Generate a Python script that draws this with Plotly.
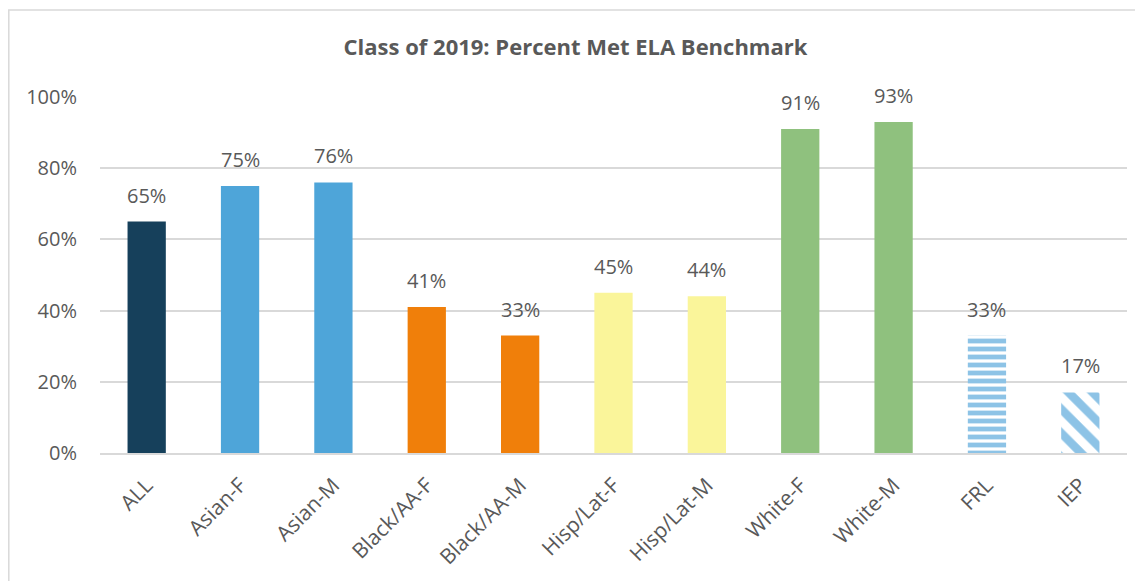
import plotly.graph_objects as go

categories = ["ALL", "Asian-F", "Asian-M", "Black/AA-F", "Black/AA-M", "Hisp/Lat-F",
              "Hisp/Lat-M", "White-F", "White-M", "FRL", "IEP"]
percent_met = [65, 75, 76, 41, 33, 45, 44, 91, 93, 33, 17]
bar_colors = ["#16405B", "#4EA5D9", "#4EA5D9", "#F07F0A", "#F07F0A", "#FAF59A",
              "#FAF59A", "#8FC17E", "#8FC17E", "#8DC3E6", "#8DC3E6"]
bar_patterns = ["", "", "", "", "", "", "", "", "", "-", "\\"]
y_ticks = [0, 20, 40, 60, 80, 100]

# the page has an 8px body margin, so the figure is drawn 8px in from the window edge
W, H = 1135, 573
M = dict(l=92, r=16, t=89, b=128)
pw, ph = W - M["l"] - M["r"], H - M["t"] - M["b"]

font = "Open Sans, Liberation Sans, sans-serif"
grey = "#595959"
pattern_size = {"-": 8, "\\": 17}
pattern_solidity = {"-": 0.6, "\\": 0.5}

fig = go.Figure()
for pat in dict.fromkeys(bar_patterns):
    idx = [i for i, p in enumerate(bar_patterns) if p == pat]
    cols = [bar_colors[i] for i in idx]
    marker = dict(color=cols, line=dict(width=0))
    if pat:
        marker["pattern"] = dict(
            shape=pat, fgcolor=cols[0], bgcolor="#FFFFFF", fillmode="replace",
            size=pattern_size[pat], solidity=pattern_solidity[pat],
        )
    fig.add_trace(
        go.Bar(
            x=[categories[i] for i in idx],
            y=[percent_met[i] / 100 for i in idx],
            marker=marker,
            hovertemplate="%{x}: %{y:.0%}<extra></extra>",
        )
    )

for cat, val in zip(categories, percent_met):
    fig.add_annotation(
        x=cat, y=val / 100, text=f"{val}%", showarrow=False,
        yanchor="bottom", yshift=11, font=dict(family=font, size=20, color=grey),
    )

# outer chart border (only left/top visible in the original)
fig.add_shape(
    type="rect", xref="paper", yref="paper",
    x0=(0.8 - M["l"]) / pw, x1=(W + 10 - M["l"]) / pw,
    y0=(H - M["b"] - (H + 10)) / ph, y1=(H - M["b"] - 2) / ph,
    line=dict(color="#D9D9D9", width=1.5), fillcolor="rgba(0,0,0,0)", layer="below",
)

fig.update_layout(
    width=W, height=H,
    margin=M,
    paper_bgcolor="white",
    plot_bgcolor="white",
    showlegend=False,
    barmode="overlay",
    bargap=0.59,
    title=dict(
        text="<b>Class of 2019: Percent Met ELA Benchmark</b>",
        x=0.5, xanchor="center", y=1 - 39 / H, yanchor="middle",
        font=dict(family=font, size=22, color=grey),
    ),
    xaxis=dict(
        type="category",
        categoryorder="array",
        categoryarray=categories,
        tickangle=-45,
        tickfont=dict(family=font, size=21, color=grey),
        showgrid=False,
        showline=True,
        linecolor="#D9D9D9",
        linewidth=1.5,
        ticks="",
        ticklabelstandoff=10,
    ),
    yaxis=dict(
        range=[0, 1],
        tickvals=[t / 100 for t in y_ticks],
        ticktext=[f"{t}%" for t in y_ticks],
        tickfont=dict(family=font, size=20, color=grey),
        gridcolor="#D9D9D9",
        gridwidth=1.5,
        zeroline=False,
        ticks="",
        ticklabelstandoff=22,
    ),
)

fig.write_html("out.html")
